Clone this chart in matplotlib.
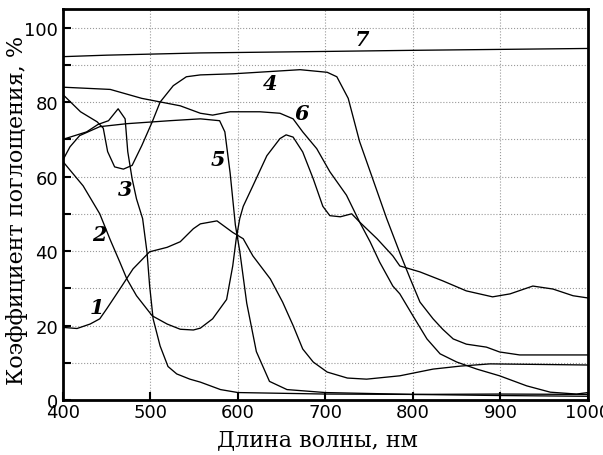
import numpy as np
import matplotlib.pyplot as plt
from matplotlib.ticker import MultipleLocator

# Curves (wavelength, nm / absorption, %)
x1 = [400, 416, 431, 442, 450, 465, 480, 499, 519, 534, 549, 557, 576, 594, 606, 617, 637, 651,
      663, 674, 686, 702, 725, 747, 785, 823, 854, 888, 1000]
y1 = [19.5, 19.2, 20.4, 21.8, 24.5, 29.8, 35.2, 39.8, 41.0, 42.5, 46.0, 47.3, 48.1, 45.0, 43.3,
      38.7, 32.5, 26.3, 20.0, 13.7, 10.2, 7.5, 5.9, 5.6, 6.5, 8.3, 9.1, 9.7, 9.4]

x2 = [400, 423, 442, 454, 465, 473, 484, 502, 519, 534, 549, 557, 571, 587, 594, 598, 602, 606,
      617, 633, 648, 655, 663, 674, 686, 697, 705, 717, 730, 739, 751, 762, 777, 785, 800, 816,
      831, 850, 873, 899, 930, 957, 987, 1000]
y2 = [64.0, 57.5, 50.0, 43.0, 37.0, 32.5, 28.0, 22.6, 20.4, 19.0, 18.8, 19.3, 21.8, 27.0, 36.0,
      43.3, 48.7, 52.0, 57.5, 65.6, 70.2, 71.2, 70.6, 66.6, 59.4, 52.0, 49.5, 49.2, 50.0, 47.8,
      42.5, 37.0, 30.6, 28.5, 22.6, 16.4, 12.4, 10.2, 8.3, 6.5, 3.8, 2.1, 1.6, 2.0]

x3 = [400, 427, 440, 452, 463, 471, 474, 479, 484, 491, 496, 499, 503, 511, 520, 530, 545, 557,
      580, 600, 700, 800, 900, 1000]
y3 = [70.0, 72.0, 74.0, 75.0, 78.2, 75.5, 66.7, 59.4, 54.0, 48.7, 39.7, 30.7, 21.8, 14.5, 9.0,
      7.0, 5.6, 4.8, 2.8, 2.0, 1.6, 1.5, 1.6, 1.5]

x4 = [400, 420, 439, 446, 451, 459, 469, 479, 490, 502, 511, 526, 541, 557, 595, 671, 702, 713,
      726, 739, 754, 770, 785, 797, 808, 823, 834, 846, 861, 884, 899, 922, 1000]
y4 = [82.0, 77.4, 74.7, 73.0, 66.7, 62.6, 62.0, 63.0, 68.3, 74.7, 80.0, 84.4, 86.8, 87.3, 87.6,
      88.7, 88.0, 86.8, 81.0, 69.4, 59.4, 48.7, 39.5, 32.5, 26.3, 21.8, 19.0, 16.4, 15.0, 14.2,
      12.9, 12.1, 12.1]

x5 = [400, 408, 419, 442, 473, 522, 557, 579, 585, 591, 597, 602, 610, 621, 636, 656, 700, 800,
      900, 1000]
y5 = [64.5, 68.0, 71.0, 73.4, 74.2, 75.0, 75.5, 75.0, 72.0, 61.0, 47.0, 40.0, 26.0, 13.0, 5.0,
      2.8, 2.0, 1.5, 1.2, 1.0]

x6 = [400, 454, 490, 534, 557, 571, 591, 625, 648, 663, 674, 690, 705, 724, 739, 759, 777, 785,
      808, 834, 861, 891, 911, 937, 960, 983, 1000]
y6 = [84.0, 83.4, 81.0, 79.0, 77.0, 76.5, 77.4, 77.4, 77.0, 75.5, 72.0, 67.5, 61.3, 55.0, 47.8,
      43.3, 38.7, 36.0, 34.4, 32.0, 29.3, 27.7, 28.5, 30.6, 29.8, 28.0, 27.4]

x7 = [400, 450, 557, 700, 800, 1000]
y7 = [92.2, 92.6, 93.2, 93.6, 93.9, 94.4]

curves = [(x1, y1), (x2, y2), (x3, y3), (x4, y4), (x5, y5), (x6, y6), (x7, y7)]
labels = ['1', '2', '3', '4', '5', '6', '7']
label_x = [439, 442, 471, 637, 577, 673, 742]
label_y = [25, 44.6, 56.7, 85, 64.8, 77, 97]

plt.rcParams['font.family'] = ['DejaVu Sans']

fig = plt.figure(figsize=(6.03, 4.56), dpi=100)
ax = fig.add_axes([0.1045, 0.1206, 0.8705, 0.8575])

for x, y in curves:
    ax.plot(x, y, color='black', lw=0.95)

for t, lx, ly in zip(labels, label_x, label_y):
    ax.text(lx, ly, t, fontsize=15, fontstyle='italic', fontweight='bold',
            family='DejaVu Serif', ha='center', va='center')

ax.set_xlim(400, 1000)
ax.set_ylim(0, 105)
ax.xaxis.set_major_locator(MultipleLocator(100))
ax.yaxis.set_major_locator(MultipleLocator(20))
ax.yaxis.set_minor_locator(MultipleLocator(10))
ax.grid(True, which='both', ls=':', color='#999999', lw=0.8)
ax.tick_params(which='both', direction='in', length=6, width=1.5, labelsize=13)
ax.tick_params(axis='x', pad=2)
for s in ax.spines.values():
    s.set_linewidth(2)

ax.set_xlabel('Длина волны, нм', family='DejaVu Serif', fontsize=16)
ax.set_ylabel('Коэффициент поглощения, %', family='DejaVu Serif', fontsize=16)
ax.xaxis.set_label_coords(0.484, -0.072)
ax.yaxis.set_label_coords(-0.066, 0.488)

fig.savefig('out.png', dpi=100)
